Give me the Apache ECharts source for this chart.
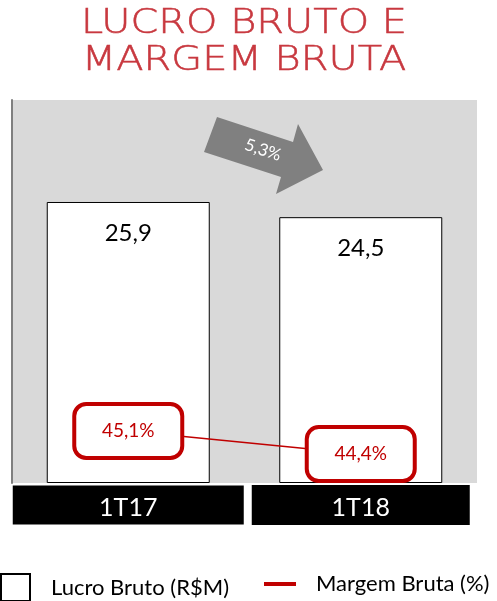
<!DOCTYPE html>
<html><head><meta charset="utf-8">
<script src="https://cdn.jsdelivr.net/npm/echarts@6/dist/echarts.min.js"></script>
<style>html,body{margin:0;padding:0;background:#fff}#c{width:497px;height:601px}</style>
</head><body><div id="c"></div>
<script>
const categories = ['1T17', '1T18'];
const lucroBruto = [25.9, 24.5];
const margemBruta = [45.1, 44.4];
const variationLabel = '5,3%';
const titleLines = ['LUCRO BRUTO E', 'MARGEM BRUTA'];

const fmt = v => v.toFixed(1).replace('.', ',');
const chart = echarts.init(document.getElementById('c'));
const FONT = 'Lato';
const titleStyle = t => ({ text: t, fontFamily: 'DejaVu Sans', fontWeight: 200, fontSize: 33, fill: '#c8383f', stroke: '#c8383f', lineWidth: 0.5, align: 'center', verticalAlign: 'top' });
chart.setOption({
  animation: false,
  textStyle: { fontFamily: FONT },
  grid: { left: 12, top: 100, width: 465, height: 383, show: true, backgroundColor: '#d9d9d9', borderWidth: 0 },
  xAxis: {
    type: 'category', data: categories,
    axisLine: { show: false }, axisTick: { show: false },
    axisLabel: {
      margin: 5,
      formatter: (v, i) => '{' + (i === 0 ? 'a' : 'b') + '|' + v + '}',
      rich: {
        a: { width: 231, height: 34, lineHeight: 34, padding: [5, 0, 0, 0], backgroundColor: '#000', color: '#fff', fontSize: 25, align: 'center', fontFamily: FONT },
        b: { width: 218, height: 34, lineHeight: 34, padding: [6, 0, 0, 0], backgroundColor: '#000', color: '#fff', fontSize: 25, align: 'center', fontFamily: FONT }
      }
    }
  },
  yAxis: [
    { type: 'value', min: 0, max: 35.3, show: true, splitLine: { show: false }, axisLabel: { show: false }, axisTick: { show: false },
      axisLine: { show: true, lineStyle: { color: '#7f7f7f', width: 2 } } },
    { type: 'value', min: 43.52, max: 55.16, show: false, splitLine: { show: false } }
  ],
  legend: [
    { data: ['Lucro Bruto (R$M)'], left: 0, top: 573, padding: 0, itemWidth: 29, itemHeight: 27, icon: 'rect',
      textStyle: { fontSize: 22, color: '#000', fontFamily: FONT, padding: [0, 0, 0, 16] } },
    { data: ['Margem Bruta (%)'], left: 264, top: 573, padding: 0, itemWidth: 32, itemHeight: 4, icon: 'rect',
      textStyle: { fontSize: 22, color: '#000', fontFamily: FONT, padding: [-4, 0, 0, 15] } }
  ],
  series: [
    { name: 'Lucro Bruto (R$M)', type: 'bar', data: lucroBruto, barWidth: 163,
      itemStyle: { color: '#fff', borderColor: '#000', borderWidth: 1 },
      label: { show: true, position: 'insideTop', distance: 19, fontSize: 24, color: '#000', formatter: p => fmt(p.value) } },
    { name: 'Margem Bruta (%)', type: 'line', yAxisIndex: 1, data: margemBruta, symbol: 'circle', symbolSize: 2, showSymbol: true,
      lineStyle: { color: '#c00000', width: 1.5 }, itemStyle: { color: '#c00000' },
      label: { show: true, position: 'inside', formatter: p => fmt(p.value) + '%', color: '#c00000', fontSize: 19,
        backgroundColor: '#fff', borderColor: '#c00000', borderWidth: 4, borderRadius: 10,
        width: 104, height: 50, lineHeight: 50, padding: 0, align: 'center', verticalAlign: 'middle' } }
  ],
  graphic: [
    { type: 'text', x: 244, y: 8, scaleX: 1.21, style: titleStyle(titleLines[0]) },
    { type: 'text', x: 244, y: 45, scaleX: 1.21, style: titleStyle(titleLines[1]) },
    { type: 'polygon', shape: { points: [[217,117],[293,142],[298,124],[323,170],[276,194],[281,177],[204,152]] }, style: { fill: '#808080' } },
    { type: 'text', x: 263, y: 150, rotation: -0.32, style: { text: variationLabel, fill: '#fff', fontSize: 17, fontFamily: FONT, align: 'center', verticalAlign: 'middle' } }
  ]
});
</script></body></html>
